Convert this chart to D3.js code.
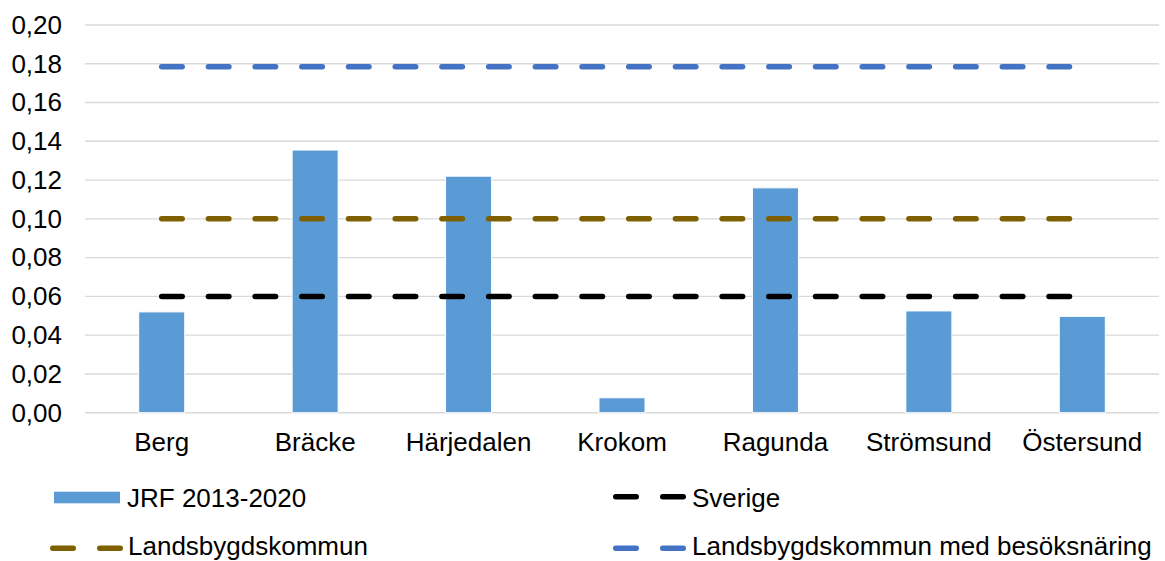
<!DOCTYPE html>
<html><head><meta charset="utf-8">
<script src="https://cdn.jsdelivr.net/npm/d3@7"></script>
<style>body{margin:0;background:#fff}svg{display:block;font-family:Arial,"Liberation Sans",sans-serif}</style>
</head><body>
<svg id="c" width="1165" height="561"></svg>
<script>
const categories = ["Berg","Bräcke","Härjedalen","Krokom","Ragunda","Strömsund","Östersund"];
const jrf = [0.052,0.1355,0.122,0.0077,0.116,0.0525,0.0497];
const sverige = [0.06,0.06,0.06,0.06,0.06,0.06,0.06];
const landsbygd = [0.10,0.10,0.10,0.10,0.10,0.10,0.10];
const besok = [0.1785,0.1785,0.1785,0.1785,0.1785,0.1785,0.1785];
const yTicks = [0,0.02,0.04,0.06,0.08,0.10,0.12,0.14,0.16,0.18,0.20];
const seriesNames = ["JRF 2013-2020","Sverige","Landsbygdskommun","Landsbygdskommun med besöksnäring"];

const svg = d3.select("#c");
const L = 85, R = 1159, T = 25, B = 412.7;
const x = d3.scaleBand().domain(categories).range([L, R]).paddingInner(0.7).paddingOuter(0.35);
const xc = d3.scaleBand().domain(categories).range([L, R]);
const y = d3.scaleLinear().domain([0, 0.2]).range([B, T]);
const fmt = d => d3.format(".2f")(d).replace(".", ",");

// gridlines
svg.append("g").selectAll("line").data(yTicks).join("line")
  .attr("x1", L).attr("x2", R).attr("y1", d => y(d)).attr("y2", d => y(d))
  .attr("stroke", "#d9d9d9").attr("stroke-width", 1.4);

// y axis labels
const ya = svg.append("g").attr("transform", `translate(${L},0)`)
  .call(d3.axisLeft(y).tickValues(yTicks).tickFormat(fmt).tickSize(0).tickPadding(23));
ya.select(".domain").remove();
ya.selectAll("text").attr("font-size", 26).attr("font-family", "Arial, 'Liberation Sans', sans-serif").attr("fill", "#000");

// x axis labels
const xa = svg.append("g").attr("transform", `translate(0,${B})`)
  .call(d3.axisBottom(xc).tickSize(0).tickPadding(20));
xa.select(".domain").remove();
xa.selectAll("text").attr("font-size", 26).attr("font-family", "Arial, 'Liberation Sans', sans-serif").attr("fill", "#000");

// bars
svg.append("g").selectAll("rect").data(jrf).join("rect")
  .attr("x", (d, i) => x(categories[i]))
  .attr("width", x.bandwidth())
  .attr("y", d => y(d))
  .attr("height", d => B - y(d))
  .attr("fill", "#5b9bd5").attr("stroke", "#fff").attr("stroke-width", 1);

// lines
const lineGen = d3.line().x((d, i) => xc(categories[i]) + xc.bandwidth() / 2).y(d => y(d));
const lines = [[sverige, "#000000"], [landsbygd, "#7f6000"], [besok, "#4472c4"]];
lines.forEach(([data, col]) => {
  svg.append("path").datum(data).attr("d", lineGen)
    .attr("fill", "none").attr("stroke", col).attr("stroke-width", 5.5)
    .attr("stroke-linecap", "round").attr("stroke-dasharray", "20.5,26.2");
});

// legend
const lg = svg.append("g").attr("font-size", 26).attr("fill", "#000");
lg.append("rect").attr("x", 54).attr("y", 491.7).attr("width", 66).attr("height", 11.6).attr("fill", "#5b9bd5");
lg.append("text").attr("x", 127).attr("y", 506.5).text(seriesNames[0]);
function dashSwatch(x0, x1, yy, col) {
  lg.append("line").attr("x1", x0 + 2.75).attr("x2", x1 - 2.75).attr("y1", yy).attr("y2", yy)
    .attr("stroke", col).attr("stroke-width", 5.5).attr("stroke-linecap", "round")
    .attr("stroke-dasharray", "20.5,26.5");
}
dashSwatch(613, 686, 496.7, "#000000");
lg.append("text").attr("x", 692).attr("y", 506.5).text(seriesNames[1]);
dashSwatch(50, 123, 548.3, "#7f6000");
lg.append("text").attr("x", 128).attr("y", 554.5).text(seriesNames[2]);
dashSwatch(613, 686, 548.3, "#4472c4");
lg.append("text").attr("x", 692).attr("y", 554.5).text(seriesNames[3]);
</script>
</body></html>
